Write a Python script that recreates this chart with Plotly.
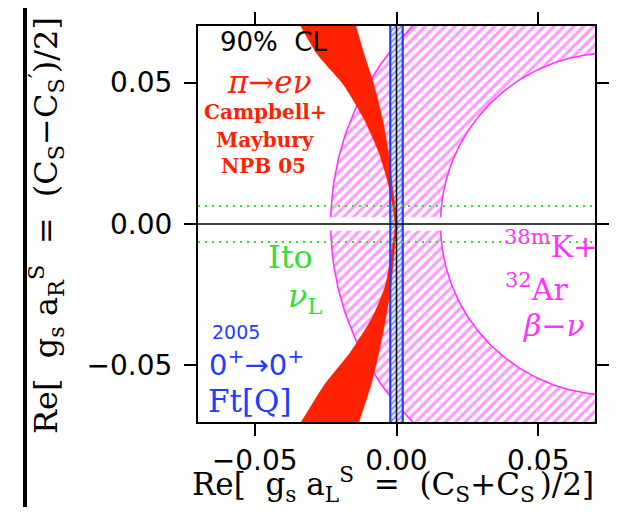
import numpy as np
import plotly.graph_objects as go

# ---------------- data ----------------
x_range = [-0.07, 0.07]
y_range = [-0.07, 0.07]
tick_vals = [-0.05, 0.0, 0.05]
tick_text = ["\u22120.05", "0.00", "0.05"]

# pi -> e nu band (Campbell + Maybury NPB 05): edges of the allowed band
band_y = [-0.074, -0.070, -0.057, -0.045, -0.033, -0.022, -0.010, 0.000,
          0.013, 0.025, 0.037, 0.049, 0.060, 0.070, 0.074]
band_left = [-0.0365, -0.0336, -0.0255, -0.0160, -0.0085, -0.0040, -0.0018, -0.0005,
             -0.0026, -0.0061, -0.0114, -0.0185, -0.0279, -0.0338, -0.0362]
band_right = [-0.0142, -0.0132, -0.0090, -0.0061, -0.0037, -0.0020, -0.0008, 0.0002,
              -0.0014, -0.0028, -0.0049, -0.0079, -0.0114, -0.0143, -0.0153]

# 38mK + 32Ar beta-nu annulus
ring_center_x = 0.076
ring_inner = 0.0605
ring_outer = 0.0992
ring_gap = 0.0024

# 0+ -> 0+ Ft[Q] band
ft_left = -0.0022
ft_right = 0.0022

# Ito nu_L limit
ito_limit = 0.0064

# ---------------- styles ----------------
RED = "#ff2200"
MAG = "#ff33ff"
BLUE = "#1f3cff"
GREEN = "#33e033"
SERIF = "DejaVu Serif"
SANS = "DejaVu Sans"

fig = go.Figure()


def half_ring(sign):
    a_out = np.arcsin(ring_gap / ring_outer)
    a_in = np.arcsin(ring_gap / ring_inner)
    t_out = np.linspace(a_out, np.pi - a_out, 200)
    t_in = np.linspace(np.pi - a_in, a_in, 200)
    xo = ring_center_x + ring_outer * np.cos(t_out)
    yo = sign * ring_outer * np.sin(t_out)
    xi = ring_center_x + ring_inner * np.cos(t_in)
    yi = sign * ring_inner * np.sin(t_in)
    return xo, yo, xi, yi


for s in (1, -1):
    xo, yo, xi, yi = half_ring(s)
    fig.add_trace(go.Scatter(
        x=np.concatenate([xo, xi, xo[:1]]), y=np.concatenate([yo, yi, yo[:1]]),
        mode="lines", line=dict(width=0, color=MAG), fill="toself",
        fillcolor="rgba(0,0,0,0)",
        fillpattern=dict(shape="/", fgcolor=MAG, bgcolor="rgba(255,255,255,0)", size=7, solidity=0.45),
        hoverinfo="skip", showlegend=False))
    fig.add_trace(go.Scatter(x=xo, y=yo, mode="lines", line=dict(color=MAG, width=1.6),
                             hoverinfo="skip", showlegend=False))
    fig.add_trace(go.Scatter(x=xi, y=yi, mode="lines", line=dict(color=MAG, width=1.6),
                             hoverinfo="skip", showlegend=False))

# blue Ft band hatch
yb = [y_range[0] - 0.01, y_range[1] + 0.01]
fig.add_trace(go.Scatter(
    x=[ft_left, ft_right, ft_right, ft_left, ft_left],
    y=[yb[0], yb[0], yb[1], yb[1], yb[0]],
    mode="lines", line=dict(width=0, color=BLUE), fill="toself", fillcolor="rgba(0,0,0,0)",
    fillpattern=dict(shape="/", fgcolor=BLUE, bgcolor="white", size=4, solidity=0.6),
    hoverinfo="skip", showlegend=False))

# red band
fig.add_trace(go.Scatter(
    x=band_left + band_right[::-1] + band_left[:1],
    y=band_y + band_y[::-1] + band_y[:1],
    mode="lines", line=dict(color=RED, width=0.5, shape="spline", smoothing=0.6),
    fill="toself", fillcolor=RED, hoverinfo="skip", showlegend=False))

# blue band edges
for xv in (ft_left, ft_right):
    fig.add_trace(go.Scatter(x=[xv, xv], y=yb, mode="lines", line=dict(color=BLUE, width=2.2),
                             hoverinfo="skip", showlegend=False))

# Ito dotted lines
for yv in (ito_limit, -ito_limit):
    fig.add_trace(go.Scatter(x=x_range, y=[yv, yv], mode="lines",
                             line=dict(color=GREEN, width=2, dash="2px,5px"),
                             hoverinfo="skip", showlegend=False))

# zero lines on top
fig.add_shape(type="line", x0=0, x1=0, y0=y_range[0], y1=y_range[1], xref="x", yref="y",
              line=dict(color="black", width=1.5), layer="above")
fig.add_shape(type="line", x0=x_range[0], x1=x_range[1], y0=0, y1=0, xref="x", yref="y",
              line=dict(color="black", width=1.5), layer="above")

# page geometry (the page body adds an 8px offset)
OFF = 8
W, H = 617 - 2 * OFF, 515 - 2 * OFF
L, T = 198 - OFF, 26 - OFF
R, B = 14, 85
pw, ph = W - L - R, H - T - B
plot_left, plot_bottom = L + OFF, H - B + OFF  # page pixels


def pgx(p):  # page pixel -> paper x
    return (p - plot_left) / pw


def pgy(p):  # page pixel -> paper y
    return (plot_bottom - p) / ph


# left black bar of the page
fig.add_shape(type="line", xref="paper", yref="paper",
              x0=pgx(25), x1=pgx(25), y0=pgy(516), y1=pgy(4),
              line=dict(color="black", width=4))


def px2x(p):
    return (p - 397) / 2832


def px2y(p):
    return (225 - p) / 2850


def ann(text, px, py, size, color, family, xanchor="center", **kw):
    fig.add_annotation(x=px2x(px), y=px2y(py), text=text, showarrow=False,
                       xanchor=xanchor, yanchor="middle",
                       font=dict(size=size, color=color, family=family), **kw)


ann("90%\u00a0\u00a0CL", 274, 42, 26, "black", SANS)
ann("<i>\u03c0\u2192e\u03bd</i>", 270, 82, 31, RED, SERIF)
ann("<b>Campbell+</b>", 266, 112, 20, RED, SERIF)
ann("<b>Maybury</b>", 266, 140, 20, RED, SERIF)
ann("<b>NPB\u00a005</b>", 264, 167, 20, RED, SERIF)
ann("Ito", 291, 258, 32, GREEN, SERIF)
ann("<i>\u03bd</i><sub>L</sub>", 306, 300, 32, GREEN, SERIF)
ann("2005", 237, 334, 19, BLUE, SANS)
ann("0<sup>+</sup>\u21920<sup>+</sup>", 257, 365, 29, BLUE, SANS)
ann("Ft[Q]", 251, 403, 31, BLUE, SERIF)
ann("<sup>38m</sup>K+", 502, 246, 30, MAG, SERIF, xanchor="left")
ann("<sup>32</sup>Ar", 503, 289, 30, MAG, SERIF, xanchor="left")
ann("<i>\u03b2</i>\u2212<i>\u03bd</i>", 521, 327, 30, MAG, SERIF, xanchor="left")

S2 = "\u00a0\u00a0"
S1 = "\u00a0"
x_title = ("Re[" + S2 + "g<sub>s</sub>" + S1 + "a<sub>L</sub><sup>S</sup>" + S2 + "=" + S2
           + "(C<sub>S</sub>+C<sub>S</sub><sup>\u2032</sup>)/2]")
y_title = ("Re[" + S2 + "g<sub>s</sub>" + S1 + "a<sub>R</sub><sup>S</sup>" + S2 + "=" + S2
           + "(C<sub>S</sub>\u2212C<sub>S</sub><sup>\u2032</sup>)/2]")

# axis titles as free text
fig.add_annotation(xref="paper", yref="paper", x=pgx(393), y=pgy(484), text=x_title,
                   showarrow=False, xanchor="center", yanchor="middle",
                   font=dict(family=SERIF, size=31, color="black"))
fig.add_annotation(xref="paper", yref="paper", x=pgx(46), y=pgy(226), text=y_title,
                   showarrow=False, xanchor="center", yanchor="middle", textangle=-90,
                   font=dict(family=SERIF, size=32, color="black"))

axis_common = dict(
    showgrid=False, zeroline=False, showline=True, linecolor="black", linewidth=2,
    mirror="ticks", ticks="outside", ticklen=12, tickwidth=2, tickcolor="black",
    tickvals=tick_vals, ticktext=tick_text, automargin=False,
    tickfont=dict(family=SANS, size=28, color="black"),
)

fig.update_layout(
    width=W, height=H, margin=dict(l=L, r=R, t=T, b=B, pad=0, autoexpand=False),
    paper_bgcolor="white", plot_bgcolor="white", showlegend=False,
    xaxis=dict(range=x_range, **axis_common),
    yaxis=dict(range=y_range, **axis_common, ticklabelstandoff=6),
)

fig.write_html("out.html")
